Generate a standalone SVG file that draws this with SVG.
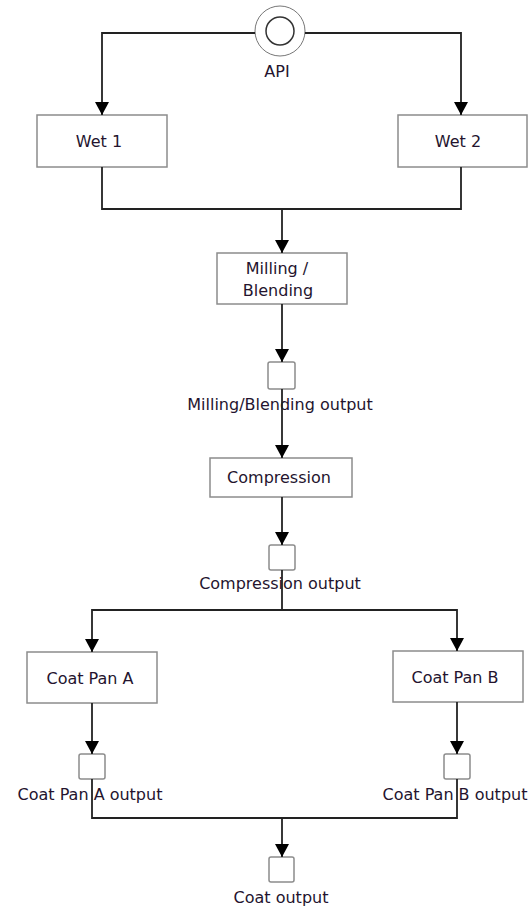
<svg xmlns="http://www.w3.org/2000/svg" width="529" height="906" viewBox="0 0 529 906">
<style>
.box{fill:#fff;stroke:#8c8c8c;stroke-width:1.5}
.sq{fill:#fff;stroke:#8c8c8c;stroke-width:1.5}
.circ{fill:#fff;stroke:#777;stroke-width:1}
.circ2{fill:none;stroke:#333;stroke-width:1.5}
.lbl{font-family:"DejaVu Sans",Verdana,sans-serif;font-size:16px;fill:#24142e;text-anchor:middle}
.con{fill:none;stroke:#222;stroke-width:1.8}
</style>
<defs>
<marker id="arr" markerUnits="userSpaceOnUse" markerWidth="14" markerHeight="14" refX="13" refY="7" orient="auto" viewBox="0 0 14 14">
<path d="M0,0 L13,7 L0,14 z" fill="#000"/>
</marker>
</defs>
<rect width="529" height="906" fill="#fff"/>
<g id="api">
<circle class="circ" cx="280" cy="31" r="25"/>
<circle class="circ2" cx="280" cy="31" r="14"/>
<text class="lbl" x="277" y="77">API</text>
</g>
<g id="wet1">
<rect class="box" x="37" y="115" width="130" height="52"/>
<text class="lbl" x="99" y="147">Wet 1</text>
</g>
<g id="wet2">
<rect class="box" x="398" y="115" width="129" height="52"/>
<text class="lbl" x="458" y="147">Wet 2</text>
</g>
<g id="milling">
<rect class="box" x="217" y="253" width="130" height="51"/>
<text class="lbl" x="277" y="274">Milling /</text>
<text class="lbl" x="278" y="296">Blending</text>
</g>
<g id="milling-output">
<rect class="sq" x="268" y="362" width="27" height="27" rx="2"/>
<text class="lbl" x="280" y="410">Milling/Blending output</text>
</g>
<g id="compression">
<rect class="box" x="210" y="458" width="142" height="39"/>
<text class="lbl" x="279" y="483">Compression</text>
</g>
<g id="compression-output">
<rect class="sq" x="269" y="545" width="26" height="25" rx="2"/>
<text class="lbl" x="280" y="589">Compression output</text>
</g>
<g id="coatA">
<rect class="box" x="27" y="652" width="130" height="51"/>
<text class="lbl" x="90" y="684">Coat Pan A</text>
</g>
<g id="coatB">
<rect class="box" x="393" y="651" width="130" height="51"/>
<text class="lbl" x="455" y="683">Coat Pan B</text>
</g>
<g id="coatA-output">
<rect class="sq" x="79" y="754" width="26" height="25" rx="2"/>
<text class="lbl" x="90" y="800">Coat Pan A output</text>
</g>
<g id="coatB-output">
<rect class="sq" x="444" y="754" width="26" height="25" rx="2"/>
<text class="lbl" x="455" y="800">Coat Pan B output</text>
</g>
<g id="coat-output">
<rect class="sq" x="269" y="857" width="25" height="25" rx="2"/>
<text class="lbl" x="281" y="903">Coat output</text>
</g>
<g id="connectors">
<path class="con" d="M255,33 H102 V115" marker-end="url(#arr)"/>
<path class="con" d="M305,33 H461 V115" marker-end="url(#arr)"/>
<path class="con" d="M102,167 V209 H461 V167"/>
<path class="con" d="M282,209 V253" marker-end="url(#arr)"/>
<path class="con" d="M282,304 V362" marker-end="url(#arr)"/>
<path class="con" d="M282,389 V458" marker-end="url(#arr)"/>
<path class="con" d="M282,497 V545" marker-end="url(#arr)"/>
<path class="con" d="M282,570 V610"/>
<path class="con" d="M282,610 H92 V652" marker-end="url(#arr)"/>
<path class="con" d="M282,610 H457 V651" marker-end="url(#arr)"/>
<path class="con" d="M92,703 V754" marker-end="url(#arr)"/>
<path class="con" d="M457,702 V754" marker-end="url(#arr)"/>
<path class="con" d="M92,779 V818 H457 V779"/>
<path class="con" d="M282,818 V857" marker-end="url(#arr)"/>
</g>
</svg>
